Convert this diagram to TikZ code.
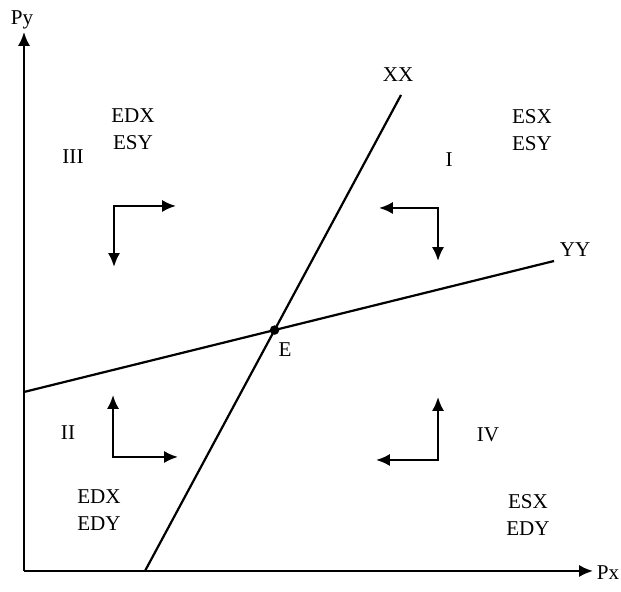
\documentclass[tikz,border=0pt]{standalone}
\usepackage{fontspec}
\setmainfont{Liberation Serif}
\usetikzlibrary{arrows.meta}

\begin{document}
\begin{tikzpicture}[line width=2.1pt,
    lab/.style={font=\fontsize{20}{25.5}\selectfont, align=center, inner sep=0pt},
    >={Latex[length=4.6mm,width=4mm]}]
\useasboundingbox (0,0) rectangle (20.7,19.733);

% axes
\coordinate (o) at (0.8,0.7);
\coordinate (ytip) at (0.8,18.667);
\coordinate (xtip) at (19.767,0.7);
\draw node (py) at (0.733,19.067) [lab]{Py};
\draw node (px) at (20.267,0.633) [lab]{Px};
\draw[->] (o) -- (ytip);
\draw[->] (o) -- (xtip);

% the two lines
\coordinate (xxb) at (4.833,0.7);
\coordinate (xxt) at (13.367,16.567);
\coordinate (yyl) at (0.8,6.667);
\coordinate (yyr) at (18.467,11.033);
\draw (xxb) -- (xxt)
  (yyl) -- (yyr);
\draw node (xx) at (13.267,17.233) [lab]{XX};
\draw node (yy) at (19.167,11.4) [lab]{YY};
\draw node (e) at (intersection of xxb--xxt and yyl--yyr) [circle,fill,inner sep=0pt,minimum size=9pt]{};
\draw node (elab) at (9.5,8.067) [lab]{E};

% regions
\draw node (r3) at (2.433,14.5) [lab]{III};
\draw node (r1) at (14.967,14.4) [lab]{I};
\draw node (r2) at (2.267,5.3) [lab]{II};
\draw node (r4) at (16.267,5.233) [lab]{IV};
\draw node (t3) at (4.433,15.433) [lab]{EDX\\ESY};
\draw node (t1) at (17.733,15.4) [lab]{ESX\\ESY};
\draw node (t2) at (3.3,2.733) [lab]{EDX\\EDY};
\draw node (t4) at (17.6,2.567) [lab]{ESX\\EDY};

% movements
\coordinate (c3) at (3.8,12.867);
\coordinate (h3) at (5.867,12.867);
\coordinate (v3) at (3.8,10.833);
\coordinate (c1) at (14.6,12.8);
\coordinate (h1) at (12.633,12.8);
\coordinate (v1) at (14.6,11.033);
\coordinate (c2) at (3.767,4.5);
\coordinate (h2) at (5.933,4.5);
\coordinate (v2) at (3.767,6.567);
\coordinate (c4) at (14.6,4.4);
\coordinate (h4) at (12.533,4.4);
\coordinate (v4) at (14.6,6.5);
\draw[<->] (h3) -- (c3) -- (v3);
\draw[<->] (h1) -- (c1) -- (v1);
\draw[<->] (h2) -- (c2) -- (v2);
\draw[<->] (h4) -- (c4) -- (v4);
\end{tikzpicture}
\end{document}
